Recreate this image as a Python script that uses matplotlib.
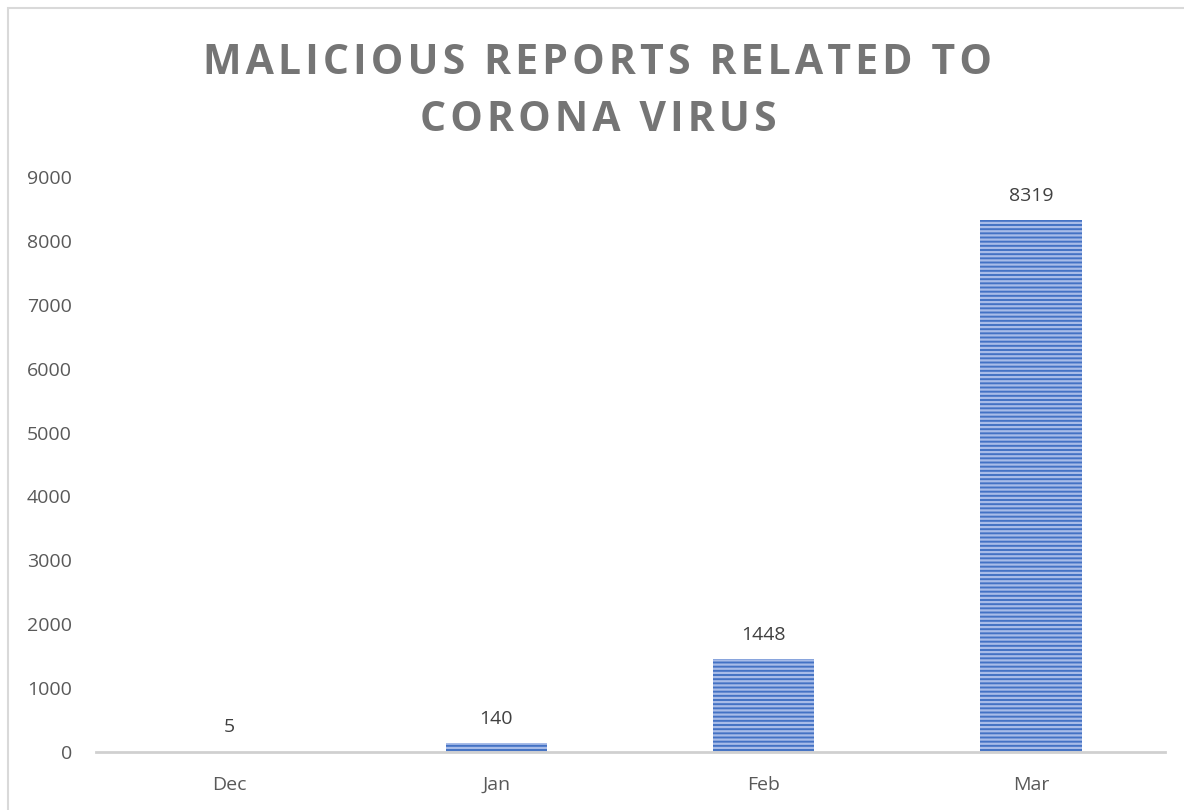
import matplotlib.pyplot as plt
from matplotlib.patches import Rectangle

months = ['Dec', 'Jan', 'Feb', 'Mar']
reports = [5, 140, 1448, 8319]
yticks = [0, 1000, 2000, 3000, 4000, 5000, 6000, 7000, 8000, 9000]
title_lines = ['MALICIOUS REPORTS RELATED TO', 'CORONA VIRUS']

plt.rcParams['font.family'] = ['Open Sans', 'DejaVu Sans']
plt.rcParams['hatch.linewidth'] = 1.6
plt.rcParams['hatch.color'] = '#a8bce8'

fig = plt.figure(figsize=(11.84, 8.1), dpi=100)
# outer chart border (light gray), cut off at right and bottom like the screenshot
fig.patches.append(Rectangle((8 / 1184, -0.1), 1.2, (810 - 8) / 810 + 0.1,
                             transform=fig.transFigure, fill=False,
                             edgecolor='#d9d9d9', linewidth=1.5))

ax = fig.add_axes([0.0807, 0.0716, 0.9029, 0.7099])
x = range(len(months))
bars = ax.bar(x, reports, width=0.38, color='#4472c4', hatch='----',
              edgecolor='#a8bce8', linewidth=0)

for xi, v in zip(x, reports):
    ax.annotate(str(v), (xi, v), xytext=(0, 11), textcoords='offset points',
                ha='center', va='bottom', fontsize=14, color='#404040')

ax.set_xlim(-0.5, len(months) - 0.5)
ax.set_ylim(0, 9000)
ax.set_xticks(list(x))
ax.set_xticklabels(months)
ax.set_yticks(yticks)
ax.tick_params(length=0, labelsize=14, labelcolor='#595959')
ax.tick_params(axis='x', pad=17)
ax.tick_params(axis='y', pad=17)
for s in ['top', 'right', 'left']:
    ax.spines[s].set_visible(False)
ax.spines['bottom'].set_color('#d0d0d0')
ax.spines['bottom'].set_linewidth(2)

# letter-spaced title (hair spaces between characters)
spaced = ['\u200a'.join(line) for line in title_lines]
fig.text(0.505, 0.886, '\n'.join(spaced), ha='center',
         va='center', fontsize=29.5, fontweight='bold', color='#757575',
         linespacing=1.52)

fig.savefig('out.png', dpi=100)
